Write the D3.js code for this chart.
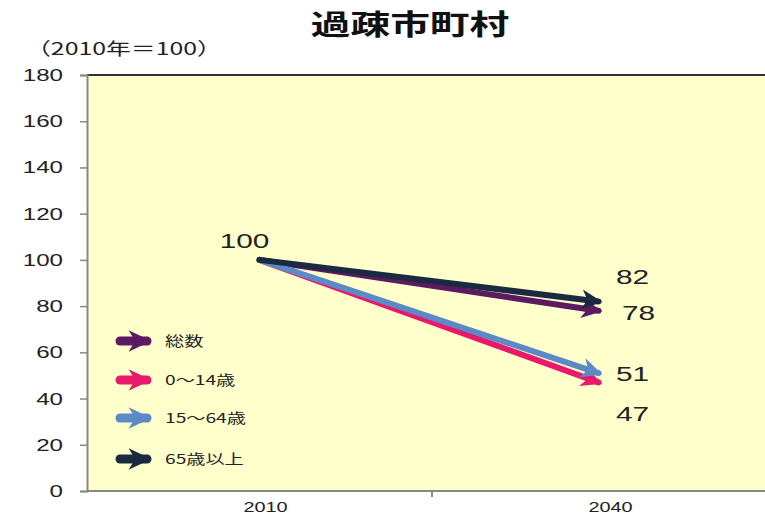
<!DOCTYPE html>
<html>
<head>
<meta charset="utf-8">
<script src="https://cdn.jsdelivr.net/npm/d3@7"></script>
<style>
  body { margin: 0; background: #fff; }
  text { font-family: "Liberation Sans", "Noto Sans CJK JP", sans-serif; }
</style>
</head>
<body>
<div id="chart"></div>
<script>
// data
var categories = ['2010', '2040'];
var seriesNames = ['総数', '0〜14歳', '15〜64歳', '65歳以上'];
var values2010 = [100, 100, 100, 100];
var values2040 = [78, 47, 51, 82];
var yTicks = [0, 20, 40, 60, 80, 100, 120, 140, 160, 180];

var colors = ['#5c1a63', '#e8196b', '#5b8ac6', '#1b2a40'];

function drawChart() {
    var width = 765, height = 516;
    var plotLeft = 87, plotTop = 75, plotBottom = 491;
    var sx = 1.42; // the reference text is drawn wide

    var svg = d3.select('#chart')
        .append('svg')
        .attr('width', width)
        .attr('height', height);

    // put a wide text at (px, py)
    function wideText(sel, px, py) {
        return sel.attr('transform', 'translate(' + px + ',' + py + ') scale(' + sx + ',1)');
    }

    var y = d3.scaleLinear().domain([0, 180]).range([plotBottom, plotTop]);
    var x = d3.scaleBand().domain(categories).range([plotLeft, plotLeft + 690]);

    // plot background
    svg.append('rect')
        .attr('x', plotLeft)
        .attr('y', plotTop)
        .attr('width', width - plotLeft)
        .attr('height', plotBottom - plotTop)
        .attr('fill', '#ffffcc');

    svg.append('line')
        .attr('x1', plotLeft).attr('x2', width)
        .attr('y1', plotTop).attr('y2', plotTop)
        .attr('stroke', '#333').attr('stroke-width', 2);

    // y axis
    var yAxis = svg.append('g')
        .attr('transform', 'translate(' + plotLeft + ',0)')
        .call(d3.axisLeft(y).tickValues(yTicks).tickSize(7).tickFormat(''));
    yAxis.select('.domain').attr('stroke', '#888').attr('stroke-width', 2);
    yAxis.selectAll('.tick line').attr('stroke', '#888').attr('stroke-width', 1.5);

    svg.selectAll('.ylab')
        .data(yTicks)
        .enter()
        .append('text')
        .each(function (d) { wideText(d3.select(this), 63, y(d) + 6); })
        .attr('text-anchor', 'end')
        .attr('fill', '#222')
        .style('font-size', '17px')
        .text(d => d);

    // x axis
    svg.append('line')
        .attr('x1', plotLeft).attr('x2', width)
        .attr('y1', plotBottom).attr('y2', plotBottom)
        .attr('stroke', '#888').attr('stroke-width', 2);
    svg.append('line')
        .attr('x1', x(categories[1])).attr('x2', x(categories[1]))
        .attr('y1', plotBottom).attr('y2', plotBottom + 6)
        .attr('stroke', '#888').attr('stroke-width', 2);
    svg.selectAll('.xlab')
        .data(categories)
        .enter()
        .append('text')
        .each(function (d) { wideText(d3.select(this), x(d) + x.bandwidth() / 2 + 6, 512); })
        .attr('text-anchor', 'middle')
        .attr('fill', '#222')
        .style('font-size', '14px')
        .text(d => d);

    // titles
    wideText(svg.append('text'), 410, 35)
        .attr('text-anchor', 'middle')
        .style('font-size', '28px')
        .style('font-weight', 'bold')
        .style('font-family', '"Noto Sans CJK JP", sans-serif')
        .attr('fill', '#111')
        .text('過疎市町村');

    wideText(svg.append('text'), 26, 55)
        .style('font-size', '17.5px')
        .style('font-family', '"Noto Sans CJK JP", sans-serif')
        .attr('fill', '#222')
        .text('（2010年＝100）');

    // arrow markers (chart size and legend size)
    var defs = svg.append('defs');
    [['head', 24], ['lhead', 26]].forEach(function (m) {
        colors.forEach(function (c, i) {
            defs.append('marker')
                .attr('id', m[0] + i)
                .attr('markerUnits', 'userSpaceOnUse')
                .attr('viewBox', '-4 -12 24 24')
                .attr('markerWidth', m[1])
                .attr('markerHeight', m[1])
                .attr('refX', 14)
                .attr('refY', 0)
                .attr('orient', 'auto')
                .append('path')
                .attr('d', 'M-3,-10 L18,0 L-3,10 L3,0 Z')
                .attr('fill', c);
        });
    });

    // series arrows
    var order = [0, 1, 2, 3];
    var cx0 = x(categories[0]) + x.bandwidth() / 2;
    var cx1 = x(categories[1]) + x.bandwidth() / 2 - 6;
    svg.selectAll('.series')
        .data(order)
        .enter()
        .append('line')
        .attr('x1', cx0)
        .attr('y1', i => y(values2010[i]))
        .attr('x2', cx1)
        .attr('y2', i => y(values2040[i]))
        .attr('stroke', i => colors[i])
        .attr('stroke-width', 6)
        .attr('stroke-linecap', 'round')
        .attr('marker-end', i => 'url(#head' + i + ')');

    // data labels
    wideText(svg.append('text'), cx0 - 15, y(100) - 12)
        .attr('text-anchor', 'middle')
        .style('font-size', '21px')
        .attr('fill', '#222')
        .text(values2010[0]);

    var labelOffsets = [[40, 9], [34, 39], [34, 8], [34, -17]];
    svg.selectAll('.vlab')
        .data(order)
        .enter()
        .append('text')
        .each(function (i) {
            wideText(d3.select(this), cx1 + labelOffsets[i][0], y(values2040[i]) + labelOffsets[i][1]);
        })
        .attr('text-anchor', 'middle')
        .style('font-size', '21px')
        .attr('fill', '#222')
        .text(i => values2040[i]);

    // legend
    var legend = svg.append('g').attr('transform', 'translate(117,341)');
    var items = legend.selectAll('.item')
        .data(seriesNames)
        .enter()
        .append('g')
        .attr('transform', (d, i) => 'translate(0,' + [0, 39, 77, 118][i] + ')');
    items.append('line')
        .attr('x1', 3).attr('x2', 30)
        .attr('y1', 0).attr('y2', 0)
        .attr('stroke', (d, i) => colors[i])
        .attr('stroke-width', 9)
        .attr('stroke-linecap', 'round')
        .attr('marker-end', (d, i) => 'url(#lhead' + i + ')');
    items.each(function (d) {
        wideText(d3.select(this).append('text'), 48, 5)
            .style('font-size', '13.5px')
            .style('font-family', '"Noto Sans CJK JP", sans-serif')
            .attr('fill', '#222')
            .text(d);
    });
}

drawChart();
</script>
</body>
</html>
